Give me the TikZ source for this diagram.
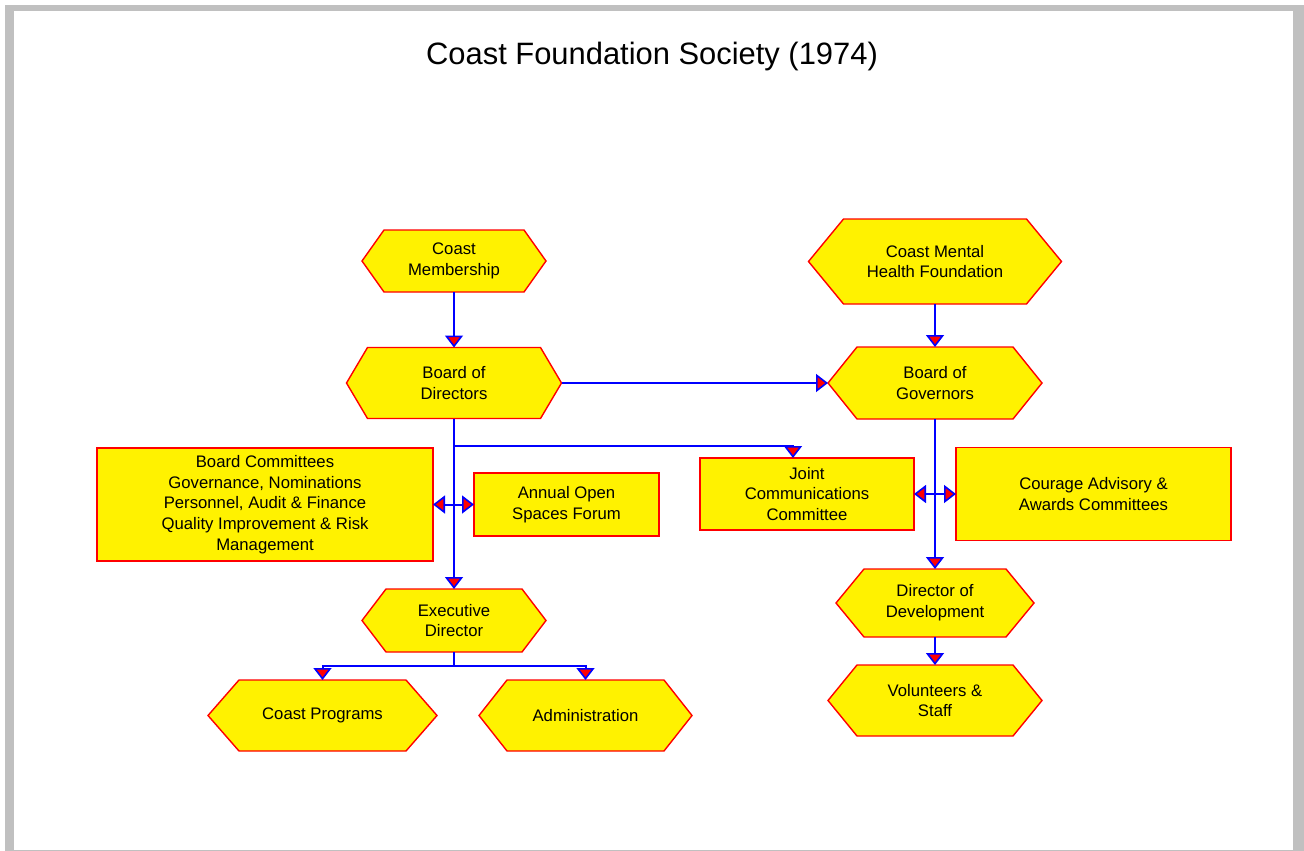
\documentclass[tikz,border=0pt]{standalone}
\usepackage{fontspec}
\setmainfont{Liberation Sans}
\usetikzlibrary{arrows.meta, positioning, calc, backgrounds}
\definecolor{framegray}{RGB}{192,192,192}

\begin{document}
\begin{tikzpicture}[
      x=1pt, y=-1pt,
      hexa/.style   ={rectangle, inner sep=0pt, outer sep=0pt, align=center, font=\fontsize{16.7}{20.8}\selectfont},
      box/.style    ={rectangle, draw=red, fill=yellow, line width=1.4pt, inner sep=0pt, outer sep=0pt, align=center, font=\fontsize{16.7}{20.8}\selectfont},
      hexline/.style={draw=red, fill=yellow, line width=1.4pt, line join=miter},
      link/.style   ={draw=blue, line width=2pt},
      arr/.style    ={link, -{Triangle[width=18pt, length=12pt, fill=red, line width=1.6pt]}},
      darr/.style   ={link, {Triangle[width=18pt, length=12pt, fill=red, line width=1.6pt]}-{Triangle[width=18pt, length=12pt, fill=red, line width=1.6pt]}}
    ]
    \useasboundingbox (0,0) rectangle (1304,851);

    % Ramme
    \begin{pgfonlayer}{background}
      \fill[framegray] (5,5) rectangle (1304,851);
      \fill[white] (14,11) rectangle (1293,850);
    \end{pgfonlayer}

    % Tittel
    \node[font=\fontsize{30.9}{36}\selectfont] (title) at (652,57) {Coast Foundation Society (1974)};

    % Venstre gren
    \node[hexa, minimum width=184pt, minimum height=62pt] (mem)   at (454,261)   {Coast\\Membership};
    \node[hexa, minimum width=215pt, minimum height=71pt] (bod)   at (454,383)   {Board of\\Directors};
    \node[box,  minimum width=336pt, minimum height=113pt] (bcom) at (265,504.5) {Board Committees\\Governance, Nominations\\Personnel, Audit \& Finance\\Quality Improvement \& Risk\\Management};
    \node[box,  minimum width=185pt, minimum height=63pt] (forum) at (566.5,504.5) {Annual Open\\Spaces Forum};
    \node[hexa, minimum width=184pt, minimum height=63pt] (exd)   at (454,620.5) {Executive\\Director};
    \node[hexa, minimum width=229pt, minimum height=71pt] (prog)  at (322.5,715.5) {Coast Programs};
    \node[hexa, minimum width=213pt, minimum height=71pt] (admin) at (585.5,715.5) {Administration};

    % Hoyre gren
    \node[hexa, minimum width=253pt, minimum height=85pt] (cmh)     at (935,261.5)   {Coast Mental\\Health Foundation};
    \node[hexa, minimum width=214pt, minimum height=72pt] (bog)     at (935,383)     {Board of\\Governors};
    \node[box,  minimum width=214pt, minimum height=72pt] (joint)   at (807,494)     {Joint\\Communications\\Committee};
    \node[box,  minimum width=275pt, minimum height=93pt] (courage) at (1093.5,494)  {Courage Advisory \&\\Awards Committees};
    \node[hexa, minimum width=198pt, minimum height=68pt] (dod)     at (935,603)     {Director of\\Development};
    \node[hexa, minimum width=214pt, minimum height=71pt] (vol)     at (935,700.5)   {Volunteers \&\\Staff};

    % Sekskanter bak tekstene
    \begin{pgfonlayer}{background}
      \foreach \n/\d in {mem/22, bod/21, exd/24, prog/31, admin/28, cmh/35, bog/29, dod/28, vol/29}
        \filldraw[hexline] (\n.west) -- ($(\n.north west)+(\d,0)$) -- ($(\n.north east)-(\d,0)$)
          -- (\n.east) -- ($(\n.south east)-(\d,0)$) -- ($(\n.south west)+(\d,0)$) -- cycle;
    \end{pgfonlayer}

    % Forbindelser
    \draw[arr]  (mem.south) -- (bod.north);
    \draw[arr]  (cmh.south) -- (bog.north);
    \draw[arr]  (bod.east) -- (bog.west);
    \draw[arr]  (bod.south) -- (exd.north);
    \draw[arr]  ($(bod.south)+(0,27)$) -| ($(joint.north west)+(93,0)$);
    \draw[darr] (bcom.east) -- (forum.west);
    \draw[arr]  (bog.south) -- (dod.north);
    \draw[darr] (joint.east) -- (courage.west);
    \draw[link] (exd.south) -- ++(0,14) coordinate (bus);
    \draw[arr]  (bus) -| (prog.north);
    \draw[arr]  (bus) -| (admin.north);
    \draw[arr]  (dod.south) -- (vol.north);

  \end{tikzpicture}
\end{document}
